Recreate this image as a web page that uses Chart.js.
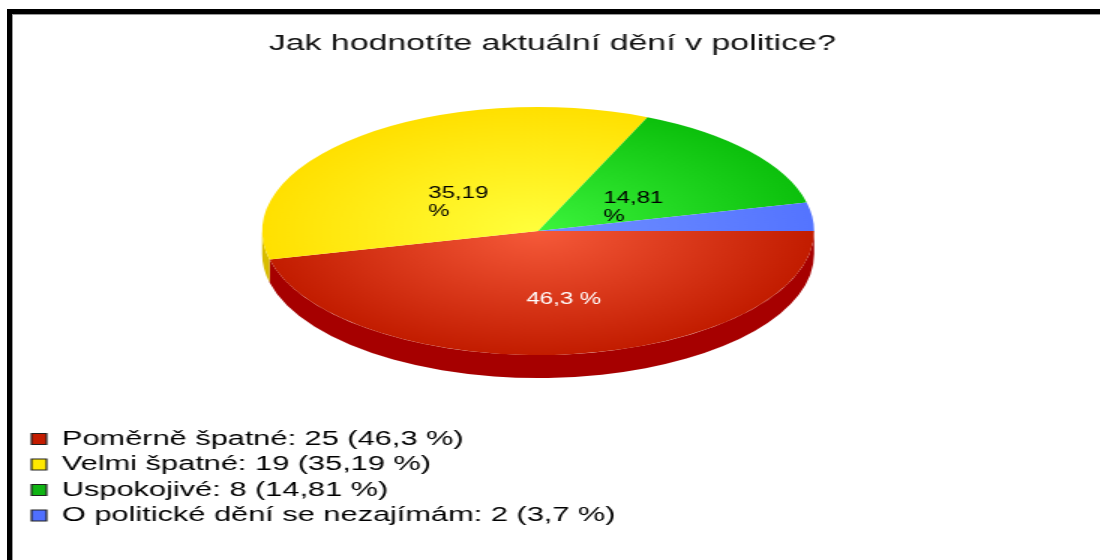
<!DOCTYPE html>
<html>
<head>
<meta charset="utf-8">
<script src="https://cdn.jsdelivr.net/npm/chart.js@4.4.1/dist/chart.umd.min.js"></script>
<style>
  body { margin: 0; background: #fff; overflow: hidden; }
  #frame { position: absolute; left: 7px; top: 9px; width: 1200px; height: 700px;
           border: 5px solid #000; box-shadow: inset 1px 1px 0 #999; }
  /* the original picture is stretched sideways, so the chart is drawn narrow and widened */
  #wrap { position: absolute; left: 0; top: 0; width: 733px; height: 560px;
          transform: scaleX(1.5); transform-origin: 0 0; }
</style>
</head>
<body>
<div id="frame"></div>
<div id="wrap"><canvas id="chart"></canvas></div>
<script>
const title = 'Jak hodnotíte aktuální dění v politice?';
const categories = ['Poměrně špatné', 'Velmi špatné', 'Uspokojivé', 'O politické dění se nezajímám'];
const counts = [25, 19, 8, 2];
const percentLabels = ['46,3 %', '35,19 %', '14,81 %', '3,7 %'];
const sliceLabels = [['46,3 %'], ['35,19', '%'], ['14,81', '%'], []];

// styles
const flatColors = ['#c41c00', '#ffe800', '#10b414', '#4f6fff'];
const innerColors = ['#f65a3a', '#ffff3c', '#3cf43c', '#7090ff'];
const outerColors = ['#c21c00', '#ffe000', '#0cc00c', '#5474ff'];
const sideColors = ['#a60000', '#d8bc00', '#0a900a', '#3a52c0'];
const labelColors = ['#ffffff', '#000000', '#000000', '#000000'];
const FONT = '"Liberation Sans", Arial, sans-serif';
const TILT = 0.674;   // vertical squash of the pie
const DEPTH = 23;     // thickness of the pie, px
const RADIUS = 184;

function sliceFill(context) {
  const i = context.dataIndex;
  const chart = context.chart;
  const area = chart.chartArea;
  if (!area) return flatColors[i];
  const cx = (area.left + area.right) / 2;
  const cy = (area.top + area.bottom) / 2;
  const g = chart.ctx.createRadialGradient(cx, cy, 0, cx, cy, RADIUS);
  g.addColorStop(0, innerColors[i]);
  g.addColorStop(1, outerColors[i]);
  return g;
}

const pie3d = {
  id: 'pie3d',
  beforeDatasetsDraw(chart) {
    const ctx = chart.ctx;
    const arcs = chart.getDatasetMeta(0).data;
    const cx = arcs[0].x, cy = arcs[0].y;
    ctx.save();
    ctx.translate(cx, cy);
    ctx.scale(1, TILT);
    ctx.translate(-cx, -cy);
    const h = DEPTH / TILT;
    arcs.forEach((arc, i) => {
      const {startAngle, endAngle, outerRadius: r} = arc.getProps(['startAngle', 'endAngle', 'outerRadius'], true);
      // only the front half of the rim is visible
      [[0, Math.PI], [2 * Math.PI, 3 * Math.PI]].forEach(([lo, hi]) => {
        const a0 = Math.max(startAngle, lo), a1 = Math.min(endAngle, hi);
        if (a1 <= a0) return;
        ctx.beginPath();
        ctx.arc(cx, cy, r, a0, a1);
        ctx.lineTo(cx + r * Math.cos(a1), cy + h + r * Math.sin(a1));
        ctx.arc(cx, cy + h, r, a1, a0, true);
        ctx.closePath();
        ctx.fillStyle = sideColors[i];
        ctx.fill();
      });
    });
  },
  afterDatasetsDraw(chart) {
    const ctx = chart.ctx;
    ctx.restore();
    const arcs = chart.getDatasetMeta(0).data;
    ctx.save();
    ctx.font = '16px ' + FONT;
    ctx.textAlign = 'left';
    ctx.textBaseline = 'middle';
    arcs.forEach((arc, i) => {
      const lines = sliceLabels[i];
      if (!lines.length) return;
      const {x, y, startAngle, endAngle, outerRadius: r} = arc.getProps(['x', 'y', 'startAngle', 'endAngle', 'outerRadius'], true);
      const mid = (startAngle + endAngle) / 2;
      const s = Math.sin(mid);
      const ax = x + Math.cos(mid) * r * (s > 0 ? 0.8 : 0.45);
      const ay = y + s * r * TILT * (s > 0 ? 0.56 : 0.3);
      const w = Math.max(...lines.map(t => ctx.measureText(t).width));
      ctx.fillStyle = labelColors[i];
      lines.forEach((t, j) => {
        ctx.fillText(t, ax - w / 2, ay + (j - (lines.length - 1) / 2) * 18);
      });
    });
    ctx.restore();
  }
};

const pad = ' '.repeat(40);

new Chart(document.getElementById('chart'), {
  type: 'pie',
  data: {
    labels: categories,
    datasets: [{
      data: counts,
      backgroundColor: sliceFill,
      borderWidth: 0,
      radius: RADIUS,
      clip: false
    }]
  },
  options: {
    responsive: true,
    maintainAspectRatio: false,
    animation: false,
    events: [],
    rotation: 90,
    layout: { padding: { left: 16, right: 31.5, top: 0, bottom: 24.25 } },
    plugins: {
      tooltip: { enabled: false },
      title: {
        display: true,
        text: '   ' + title,
        color: '#111',
        font: { family: FONT, size: 22.6, weight: 'normal', lineHeight: 1.2 },
        padding: { top: 30, bottom: 0 }
      },
      legend: {
        position: 'bottom',
        align: 'start',
        title: { display: true, text: '', font: { size: 18.85, lineHeight: 1 }, padding: 0 },
        labels: {
          color: '#000',
          font: { family: FONT, size: 20.5 },
          boxWidth: 10,
          boxHeight: 11,
          padding: 5,
          generateLabels: () => categories.map((c, i) => ({
            text: c + ': ' + counts[i] + ' (' + percentLabels[i] + ')' + pad,
            fillStyle: flatColors[i],
            strokeStyle: '#222',
            fontColor: '#000',
            lineWidth: 1.2,
            index: i
          }))
        }
      }
    }
  },
  plugins: [pie3d]
});
</script>
</body>
</html>
